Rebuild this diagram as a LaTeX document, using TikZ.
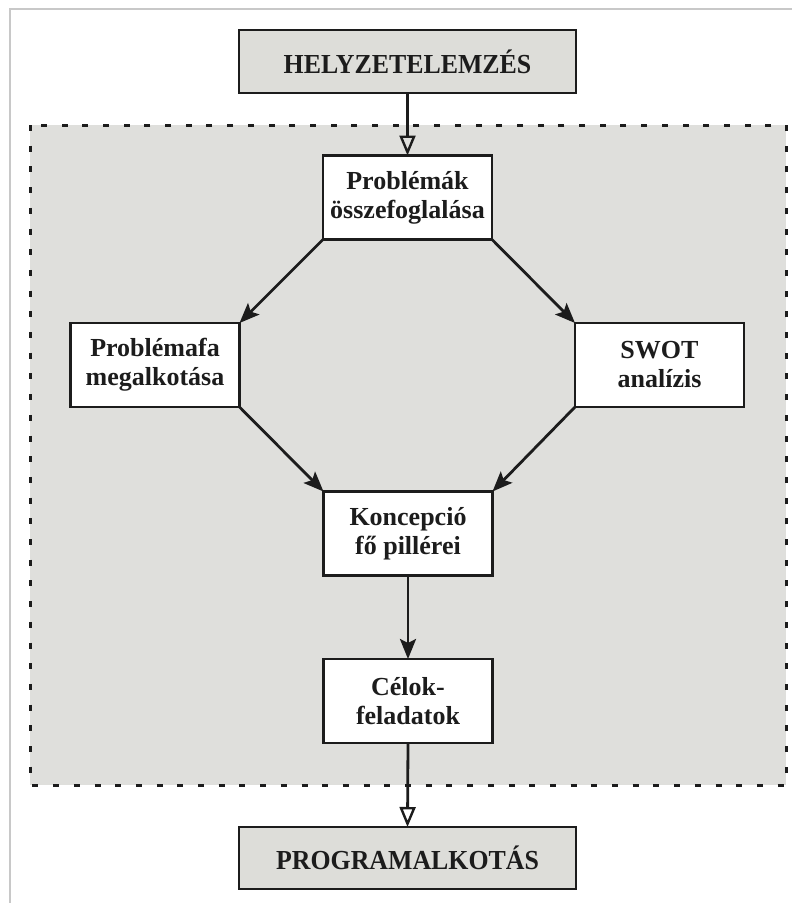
\documentclass[tikz,border=0pt]{standalone}
\usepackage{fontspec}
\setmainfont{Liberation Serif}
\newfontfamily\capsfont[FakeStretch=0.94]{Liberation Serif}
\usetikzlibrary{arrows.meta}
\definecolor{bggray}{RGB}{223,223,220}
\definecolor{boxgray}{RGB}{221,221,217}
\definecolor{framegray}{RGB}{200,200,200}
\definecolor{ink}{RGB}{28,28,28}
\tikzset{
  outerbox/.style={draw=ink, fill=boxgray, line width=2.8pt, inner sep=0pt, outer sep=0pt,
    minimum width=337pt, minimum height=63pt, text=ink, font=\capsfont\fontsize{27.5}{31}\selectfont\bfseries},
  innerbox/.style={draw=ink, fill=white, line width=2.8pt, inner sep=0pt, outer sep=0pt,
    minimum width=169pt, minimum height=84pt, align=center, text=ink,
    font=\fontsize{26}{29}\selectfont\bfseries},
  solidarrow/.style={draw=ink, line width=2.8pt, -{Stealth[length=20pt, width=16pt, inset=4pt]}},
  openarrow/.style={draw=ink, line width=2.8pt, -{Triangle[open, length=20pt, width=16pt, line width=2.4pt]}}
}
\begin{document}
\begin{tikzpicture}[x=1pt, y=-1pt]
\useasboundingbox (0,0) rectangle (792,903);
% page frame
\draw[framegray, line width=1.5pt] (792,9) -- (10,9) -- (10,903);
% dashed region
\draw[ink, fill=bggray, line width=3pt, dash pattern=on 6pt off 14.7pt] (30,125) rectangle (786,785);
% nodes
\node[outerbox] (helyzet) at (407.5,61.5) {HELYZETELEMZÉS};
\node[innerbox] (probl) at (407.5,197.5) {Problémák\\összefoglalása};
\node[innerbox] (fa) at (155,365) {Problémafa\\megalkotása};
\node[innerbox] (swot) at (659.5,365) {SWOT\\analízis};
\node[innerbox] (konc) at (408,533.5) {Koncepció\\fő pillérei};
\node[innerbox] (celok) at (408,701) {Célok-\\feladatok};
\node[outerbox, minimum height=62pt] (program) at (407.5,858) {PROGRAMALKOTÁS};
% connectors
\draw[openarrow] (helyzet.south) -- (probl.north);
\draw[solidarrow] (probl.south west) -- (fa.north east);
\draw[solidarrow] (probl.south east) -- (swot.north west);
\draw[solidarrow] (fa.south east) -- (konc.north west);
\draw[solidarrow] (swot.south west) -- (konc.north east);
\draw[solidarrow] (konc.south) -- (celok.north);
\draw[openarrow] (celok.south) -- (program.north);
\end{tikzpicture}
\end{document}
